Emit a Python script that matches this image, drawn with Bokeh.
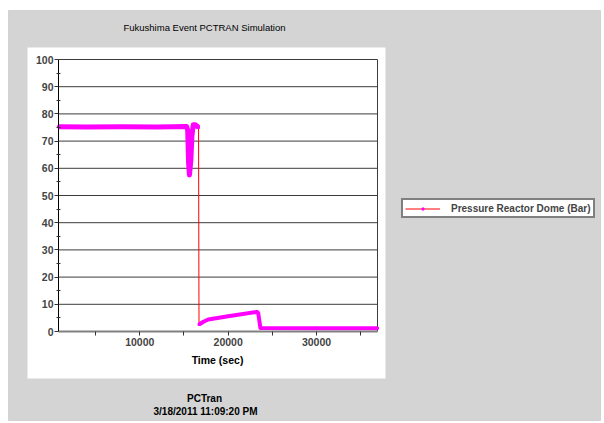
from bokeh.plotting import figure
from bokeh.models import (Range1d, FixedTicker, Label, BoxAnnotation, Legend, LegendItem)
from bokeh.embed import file_html
from bokeh.resources import INLINE

# ---- data ----
pre_time = [800, 4000, 8000, 12000, 15300, 15420, 15520, 15620, 15780, 15900, 16050, 16300, 16650]
pre_pressure = [75.3, 75.2, 75.3, 75.2, 75.4, 74.0, 62.0, 57.5, 63.0, 72.0, 76.0, 76.0, 75.0]
post_time = [16700, 17200, 17750, 20000, 23250, 23400, 23650, 30000, 36900]
post_pressure = [2.6, 3.6, 4.4, 5.6, 7.2, 6.8, 1.3, 1.2, 1.2]

x_min, x_max = 800, 36900
y_min, y_max = 0, 100
x_ticks = [5000, 10000, 15000, 20000, 25000, 30000, 35000]
x_tick_labels = {5000: "", 10000: "10000", 15000: "", 20000: "20000",
                 25000: "", 30000: "30000", 35000: ""}
y_ticks = [0, 10, 20, 30, 40, 50, 60, 70, 80, 90, 100]
y_minor = [5, 15, 25, 35, 45, 55, 65, 75, 85, 95]

title_text = "Fukushima Event PCTRAN Simulation"
series_name = "Pressure Reactor Dome (Bar)"
x_label = "Time (sec)"
footer1 = "PCTran"
footer2 = "3/18/2011 11:09:20 PM"

# ---- layout (canvas pixels) ----
W, H = 604, 423
PLOT_L, PLOT_R, PLOT_T, PLOT_B = 58, 377, 59, 331   # data area in canvas px
GRAY = "#d4d4d4"
FONT = "Liberation Sans"

kx = (x_max - x_min) / (PLOT_R - PLOT_L)
ky = (y_max - y_min) / (PLOT_B - PLOT_T)
xr = Range1d(x_min - PLOT_L * kx, x_max + (W - PLOT_R) * kx)
yr = Range1d(y_min - (H - PLOT_B) * ky, y_max + PLOT_T * ky)

p = figure(width=W, height=H, output_backend="svg", toolbar_location=None,
           x_range=xr, y_range=yr, min_border=0, title=None)
p.border_fill_color = "white"
p.background_fill_color = "white"
p.outline_line_color = None

def sy(y_from_top):
    return H - y_from_top

# gray panel and white chart panel
p.add_layout(BoxAnnotation(left=8, right=600, top=sy(10), bottom=sy(420),
                           left_units="screen", right_units="screen",
                           top_units="screen", bottom_units="screen",
                           fill_color=GRAY, fill_alpha=1.0, line_color="#a0a0a0",
                           line_width=1, level="underlay"))
p.add_layout(BoxAnnotation(left=27, right=385, top=sy(47), bottom=sy(378),
                           left_units="screen", right_units="screen",
                           top_units="screen", bottom_units="screen",
                           fill_color="white", fill_alpha=1.0, line_color=None,
                           level="underlay"))

p.xgrid.grid_line_color = None
p.ygrid.grid_line_color = None

# horizontal grid lines and right frame edge, limited to the data area
grid_y = y_ticks[1:]
p.segment(x0=[x_min] * len(grid_y), x1=[x_max] * len(grid_y), y0=grid_y, y1=grid_y,
          line_color="#3c3c3c", line_width=1)
p.segment(x0=[x_max], x1=[x_max], y0=[y_min], y1=[y_max], line_color="#3c3c3c", line_width=1)

# axes
p.xaxis.fixed_location = y_min
p.xaxis.bounds = (x_min, x_max)
p.xaxis.ticker = FixedTicker(ticks=x_ticks)
p.xaxis.major_label_overrides = x_tick_labels
p.xaxis.major_label_text_font = FONT
p.xaxis.major_label_text_font_style = "bold"
p.xaxis.major_label_text_font_size = "10.5px"
p.xaxis.major_label_standoff = 2
p.xaxis.major_tick_in = 0
p.xaxis.major_tick_out = 4
p.xaxis.minor_tick_line_color = None
p.xaxis.axis_line_color = "#808080"
p.xaxis.axis_line_width = 2
p.xaxis.major_tick_line_color = "#333333"

p.yaxis.fixed_location = x_min
p.yaxis.bounds = (y_min, y_max)
p.yaxis.ticker = FixedTicker(ticks=y_ticks, minor_ticks=y_minor)
p.yaxis.major_label_text_font = FONT
p.yaxis.major_label_text_font_style = "bold"
p.yaxis.major_label_text_font_size = "10.5px"
p.yaxis.major_label_standoff = 1
p.yaxis.major_tick_in = 0
p.yaxis.major_tick_out = 4
p.yaxis.minor_tick_in = 2
p.yaxis.minor_tick_out = 2
p.yaxis.axis_line_color = "black"
p.yaxis.major_tick_line_color = "#333333"
p.yaxis.minor_tick_line_color = "#333333"

# series
all_time = pre_time + post_time
all_pressure = pre_pressure + post_pressure
red = p.line(all_time, all_pressure, line_color="#ff0000", line_width=1)
p.line(pre_time, pre_pressure, line_color="#ff00ff", line_width=5, line_join="round")
p.line(post_time, post_pressure, line_color="#ff00ff", line_width=4, line_join="round")
marks = p.scatter(all_time, all_pressure, marker="square", size=2,
                  fill_color="#ff00ff", line_color="#ff00ff")

legend = Legend(items=[LegendItem(label=series_name, renderers=[red, marks])],
                location=(401, sy(218)), orientation="vertical",
                border_line_color="black", border_line_width=2,
                background_fill_color="white", background_fill_alpha=1.0,
                padding=2, margin=0, spacing=0,
                glyph_width=35, glyph_height=5, label_height=12, label_standoff=11,
                label_text_font=FONT, label_text_font_style="bold",
                label_text_font_size="10px")
p.add_layout(legend)

# texts
def add_text(txt, x, y_top, size, style="normal"):
    p.add_layout(Label(x=x, y=sy(y_top), x_units="screen", y_units="screen", text=txt,
                       text_font=FONT, text_font_size=size, text_font_style=style,
                       text_align="center", text_baseline="middle", text_color="black"))

add_text(title_text, 204, 27, "9.5px")
add_text(x_label, 217, 359, "10.5px", "bold")
add_text(footer1, 204, 398, "10px", "bold")
add_text(footer2, 205, 411, "10px", "bold")

open("out.html", "w").write(file_html(p, INLINE))
